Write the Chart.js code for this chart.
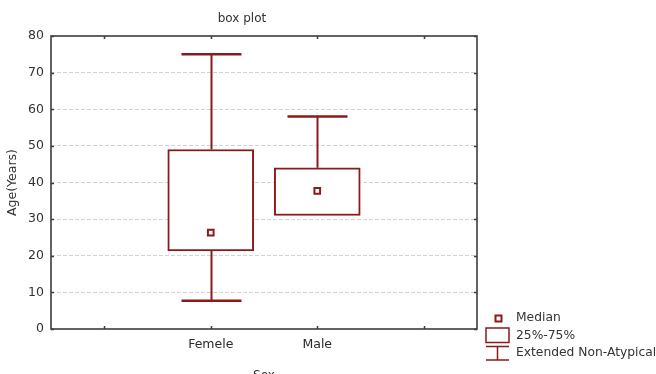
<!DOCTYPE html>
<html>
<head>
<meta charset="utf-8">
<title>box plot</title>
<script src="https://cdn.jsdelivr.net/npm/chart.js@4/dist/chart.umd.min.js"></script>
<style>
  html, body { margin: 0; padding: 0; background: #fff; }
  canvas { display: block; }
</style>
</head>
<body>
<canvas id="chart" width="656" height="374"></canvas>
<script>
// Age by sex: box (25%-75%), median point and whiskers (non-outlier range)
const categories   = ['Femele', 'Male'];
const categoryPos  = [2, 3];
const medians      = [26.3, 37.7];
const quartile25   = [21.3, 31];
const quartile75   = [49, 44];
const whiskerLow   = [7.7, 31];
const whiskerHigh  = [75, 58];
const yTicks       = [0, 10, 20, 30, 40, 50, 60, 70, 80];
const xTickSlots   = [1, 2, 3, 4];

const RED = '#8b1a1a';
const AXIS = '#3c3c3c';
const TEXT = '#333';
const FONT = '"DejaVu Sans", "Liberation Sans", Arial, sans-serif';

const boxData = categoryPos.map((x, i) => ({ x, y: [quartile25[i], quartile75[i]] }));
const medianData = categoryPos.map((x, i) => ({ x, y: medians[i] }));

// Whiskers, frame, inner tick marks, titles and the legend key
const decorations = {
  id: 'decorations',
  beforeDatasetsDraw(chart) {
    const { ctx, scales: { x, y } } = chart;
    const cap = 30;
    ctx.save();
    ctx.strokeStyle = RED;
    ctx.lineWidth = 2;
    categoryPos.forEach((pos, i) => {
      const px = Math.round(x.getPixelForValue(pos)) + 0.5;
      const hi = y.getPixelForValue(whiskerHigh[i]);
      const q3 = y.getPixelForValue(quartile75[i]);
      const q1 = y.getPixelForValue(quartile25[i]);
      const lo = y.getPixelForValue(whiskerLow[i]);
      ctx.beginPath();
      ctx.moveTo(px, hi); ctx.lineTo(px, q3);
      ctx.moveTo(px, q1); ctx.lineTo(px, lo);
      ctx.stroke();
      ctx.lineWidth = 2.5;
      ctx.beginPath();
      ctx.moveTo(px - cap, hi); ctx.lineTo(px + cap, hi);
      if (whiskerLow[i] < quartile25[i]) {
        ctx.moveTo(px - cap, lo); ctx.lineTo(px + cap, lo);
      }
      ctx.stroke();
      ctx.lineWidth = 2;
    });
    ctx.restore();
  },
  afterDraw(chart) {
    const { ctx, chartArea: a, scales: { x, y } } = chart;
    ctx.save();
    // frame
    ctx.strokeStyle = AXIS;
    ctx.lineWidth = 1.6;
    ctx.strokeRect(a.left, a.top, a.right - a.left, a.bottom - a.top);
    // inward tick marks
    ctx.lineWidth = 1.5;
    ctx.beginPath();
    xTickSlots.forEach(v => {
      const px = Math.round(x.getPixelForValue(v)) + 0.5;
      ctx.moveTo(px, a.bottom); ctx.lineTo(px, a.bottom - 3);
      ctx.moveTo(px, a.top); ctx.lineTo(px, a.top + 3);
    });
    yTicks.forEach(v => {
      const py = Math.round(y.getPixelForValue(v)) + 0.5;
      ctx.moveTo(a.left, py); ctx.lineTo(a.left + 3, py);
      ctx.moveTo(a.right, py); ctx.lineTo(a.right - 3, py);
    });
    ctx.stroke();

    // titles
    ctx.fillStyle = TEXT;
    ctx.font = '12px ' + FONT;
    ctx.textAlign = 'center';
    ctx.textBaseline = 'middle';
    ctx.fillText('box plot', 242, 19);
    ctx.textBaseline = 'top';
    ctx.fillText('Sex', 264, 370);
    ctx.save();
    ctx.translate(13, (a.top + a.bottom) / 2);
    ctx.rotate(-Math.PI / 2);
    ctx.textBaseline = 'middle';
    ctx.font = '12.5px ' + FONT;
    ctx.fillText('Age(Years)', 0, 0);
    ctx.restore();

    // legend key
    ctx.strokeStyle = RED;
    ctx.fillStyle = '#fff';
    ctx.lineWidth = 2;
    ctx.beginPath();
    ctx.rect(495.5, 315.5, 6, 6);
    ctx.fill(); ctx.stroke();
    ctx.lineWidth = 1.5;
    ctx.strokeRect(486, 328, 23, 14.5);
    ctx.beginPath();
    ctx.moveTo(486, 346.5); ctx.lineTo(509, 346.5);
    ctx.moveTo(497.5, 346.5); ctx.lineTo(497.5, 360);
    ctx.moveTo(486, 360); ctx.lineTo(509, 360);
    ctx.stroke();
    ctx.fillStyle = TEXT;
    ctx.textAlign = 'left';
    ctx.textBaseline = 'middle';
    ctx.font = '12.3px ' + FONT;
    ctx.fillText('Median', 516, 318);
    ctx.fillText('25%-75%', 516, 336);
    ctx.fillText('Extended Non-Atypical', 516, 353);
    ctx.restore();
  }
};

new Chart(document.getElementById('chart'), {
  data: {
    datasets: [
      {
        type: 'bar',
        label: '25%-75%',
        data: boxData,
        backgroundColor: '#fff',
        borderColor: RED,
        borderWidth: 2,
        borderSkipped: false,
        barThickness: 86,
        order: 2
      },
      {
        type: 'scatter',
        label: 'Median',
        data: medianData,
        pointStyle: 'rect',
        pointRadius: 4,
        pointHoverRadius: 4,
        backgroundColor: '#fff',
        borderColor: RED,
        borderWidth: 2,
        order: 1
      }
    ]
  },
  options: {
    responsive: false,
    animation: false,
    events: [],
    layout: { padding: { top: 36, right: 179, left: 0, bottom: 0 } },
    plugins: { legend: { display: false }, title: { display: false }, tooltip: { enabled: false } },
    scales: {
      x: {
        type: 'linear',
        min: 0.5,
        max: 4.5,
        offset: false,
        afterBuildTicks(scale) { scale.ticks = xTickSlots.map(v => ({ value: v })); },
        afterFit(scale) { scale.height = 45; },
        grid: { display: false, drawTicks: false },
        border: { display: false },
        ticks: {
          autoSkip: false,
          maxRotation: 0,
          padding: 8,
          color: '#2a2a2a',
          font: { family: FONT, size: 12.5 },
          callback(value) {
            const i = categoryPos.indexOf(value);
            return i >= 0 ? categories[i] : '';
          }
        }
      },
      y: {
        min: 0,
        max: 80,
        afterBuildTicks(scale) { scale.ticks = yTicks.map(v => ({ value: v })); },
        afterFit(scale) { scale.width = 51; },
        grid: {
          drawTicks: false,
          lineWidth: 1,
          color(ctx) {
            const v = ctx.tick && ctx.tick.value;
            return (v === 0 || v === 80) ? 'rgba(0,0,0,0)' : '#d2d2d2';
          }
        },
        border: { display: false, dash: [4, 2] },
        ticks: {
          padding: 7,
          color: TEXT,
          font: { family: FONT, size: 12.5 }
        }
      }
    }
  },
  plugins: [decorations]
});
</script>
</body>
</html>
